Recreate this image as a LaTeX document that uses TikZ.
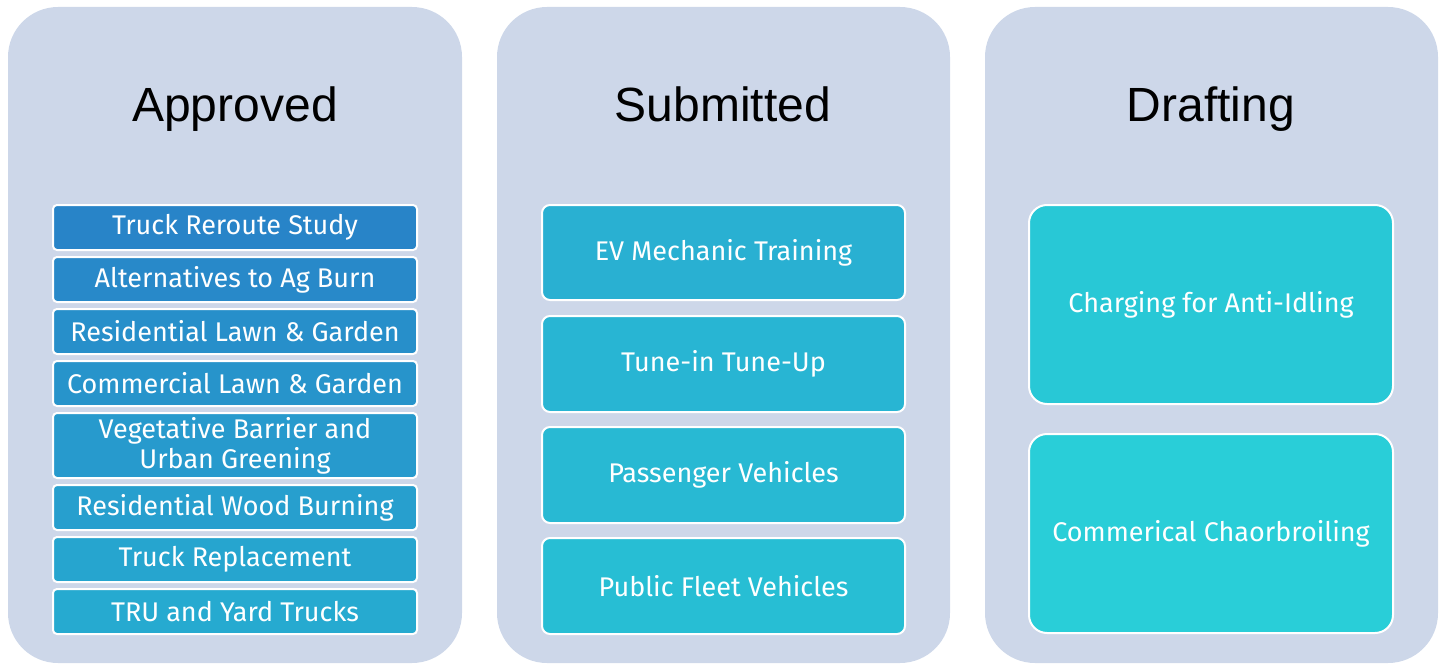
\documentclass[tikz,border=0pt]{standalone}
\usepackage{fontspec}
\setmainfont{Liberation Sans}
\newfontfamily\boxfont{Fira Sans}
\definecolor{panelbg}{RGB}{205,215,233}
\definecolor{aStart}{RGB}{40,132,200}
\definecolor{aEnd}{RGB}{38,170,208}
\definecolor{sStart}{RGB}{41,176,210}
\definecolor{sEnd}{RGB}{39,190,212}
\definecolor{dStart}{RGB}{40,200,214}
\definecolor{dEnd}{RGB}{41,206,216}
\begin{document}
\begin{tikzpicture}[x=1pt,y=-1pt,
  panel/.style={fill=panelbg,draw=none,rounded corners=50pt},
  title/.style={font=\fontsize{48}{52}\selectfont,text=black,anchor=base},
  item/.style={draw=white,line width=2pt,rounded corners=4pt,text=white,
    font=\boxfont\fontsize{27}{30}\selectfont,align=center,inner sep=0pt}]
\useasboundingbox (0,0) rectangle (1443,666);
% panels
\fill[panel] (8,7) rectangle (462,663);
\fill[panel] (497,7) rectangle (950,663);
\fill[panel] (985,7) rectangle (1438,663);
\node[title] (tA) at (235,122) {Approved};
\node[title] (tS) at (723,122) {Submitted};
\node[title] (tD) at (1211,122) {Drafting};
% Approved items
\newcommand{\aitem}[5]{%
  \draw[item,fill={aEnd!#4!aStart}] (53,#1) rectangle (417,#2)
    node[midway,text=white] (#5) {#3};}
\aitem{205}{250}{Truck Reroute Study}{0}{a1}
\aitem{257}{302}{Alternatives to Ag Burn}{14}{a2}
\aitem{309}{354}{Residential Lawn \& Garden}{28}{a3}
\aitem{361}{406}{Commercial Lawn \& Garden}{42}{a4}
\aitem{413}{478}{Vegetative Barrier and\\Urban Greening}{57}{a5}
\aitem{485}{530}{Residential Wood Burning}{71}{a6}
\aitem{537}{582}{Truck Replacement}{86}{a7}
\aitem{589}{634}{TRU and Yard Trucks}{100}{a8}
% Submitted items
\newcommand{\sitem}[5]{%
  \draw[item,rounded corners=8pt,fill={sEnd!#4!sStart}] (542,#1) rectangle (905,#2)
    node[midway,text=white] (#5) {#3};}
\sitem{205}{300}{EV Mechanic Training}{0}{s1}
\sitem{316}{412}{Tune-in Tune-Up}{33}{s2}
\sitem{427}{523}{Passenger Vehicles}{67}{s3}
\sitem{538}{634}{Public Fleet Vehicles}{100}{s4}
% Drafting items
\draw[item,rounded corners=18pt,fill=dStart] (1029,205) rectangle (1393,404)
  node[midway,text=white] (d1) {Charging for Anti-Idling};
\draw[item,rounded corners=18pt,fill=dEnd] (1029,434) rectangle (1393,633)
  node[midway,text=white] (d2) {Commerical Chaorbroiling};
\end{tikzpicture}
\end{document}
